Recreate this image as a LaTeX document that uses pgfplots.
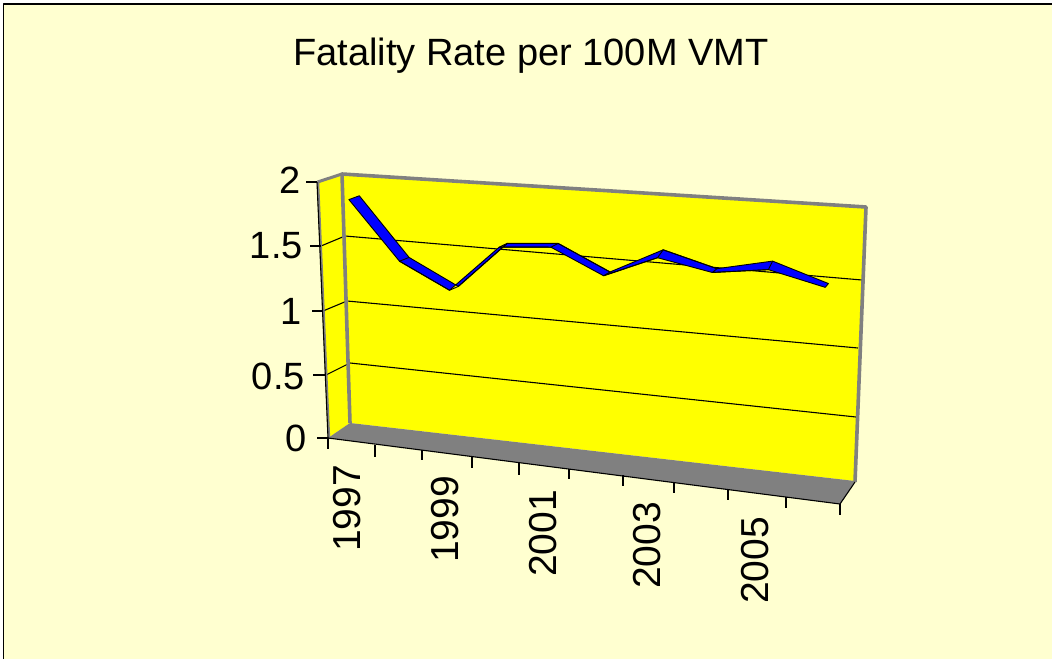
\documentclass[border=0pt]{standalone}
\usepackage{pgfplots}
\pgfplotsset{compat=1.18}
\usepackage{pgfplotstable}
\usepackage{fontspec}
\setmainfont{Liberation Sans}
\definecolor{bgc}{HTML}{FFFFD0}
\definecolor{wallc}{HTML}{FFFF00}
\definecolor{greyc}{HTML}{808080}
\definecolor{ribc}{HTML}{0000FF}
% year, rate as drawn, side (1 = rear edge of ribbon, -1 = front edge)
\pgfplotstableread{
year rate side
1997 1.863 1
1998 1.42 1
1999 1.23 1
2000 1.59 1
2001 1.62 1
2002 1.44 1
2003 1.635 1
2004 1.53 1
2005 1.617 1
2006 1.49 1
2006 1.49 -1
2005 1.583 -1
2004 1.53 -1
2003 1.605 -1
2002 1.44 -1
2001 1.62 -1
2000 1.59 -1
1999 1.23 -1
1998 1.42 -1
1997 1.863 -1
}\ribbon
\pgfplotstableread{
year rate side
1998 1.42 1
1998 1.42 -1
1999 1.23 -1
1999 1.23 1
2000 1.59 1
2000 1.59 -1
2001 1.62 -1
2001 1.62 1
2002 1.44 1
2002 1.44 -1
2003 1.605 -1
2003 1.635 1
2004 1.53 1
2004 1.53 -1
2005 1.583 -1
2005 1.617 1
}\creases
\begin{document}
\begin{tikzpicture}[
  txt/.style={font=\fontsize{38}{38}\selectfont,inner sep=0pt,text=black},
  yr/.style={font=\fontsize{39}{39}\selectfont,inner sep=0pt,text=black,anchor=east,rotate=90},
  declare function={
    projW(\u,\v)=1-0.09336*\u-0.03681*\v;
    projX(\u,\v)=(429.38*\u-21.63*\v+339)/projW(\u,\v);
    projY(\u,\v)=(15.57*\u-259.05*\v+430.5)/projW(\u,\v);
  }]
\begin{axis}[
  width=1052pt,height=659pt,scale only axis,
  xmin=0,xmax=1052,ymin=0,ymax=659,y dir=reverse,
  hide axis,clip=true,
  every axis plot/.append style={line join=round},
]
% chart area
\addplot[fill=bgc,draw=none] coordinates {(3.5,4.5)(1052,4.5)(1052,659)(3.5,659)} --cycle;
\addplot[black,line width=1.6pt] coordinates {(3.5,659)(3.5,4)(1052,4)};
% walls
\addplot[fill=wallc,draw=none] coordinates {(342,174)(866,207)(855,481)(350,423)} --cycle;
\addplot[fill=wallc,draw=none] coordinates {(317,182)(342,174)(350,423)(328,438)} --cycle;
\addplot[fill=greyc,draw=none] coordinates {(328,438)(350,423)(855,481)(840,504)} --cycle;
% gridlines
\addplot[black,line width=1.1pt] coordinates {(321,246)(345,236)(862,280)};
\addplot[black,line width=1.1pt] coordinates {(323,311)(347,301)(858,348)};
\addplot[black,line width=1.1pt] coordinates {(326,375)(350,363)(856,417)};
% wall borders
\addplot[greyc,line width=3.6pt] coordinates {(350,423)(342,174)(866,207)(855,482)};
\addplot[greyc,line width=3pt] coordinates {(317.5,182)(342,174)};
\addplot[greyc,line width=2.4pt] coordinates {(318,182)(329,438)};
\addplot[black,line width=1.1pt] coordinates {(317,182)(328,438)};
\addplot[black,line width=1.1pt] coordinates {(328,438)(840,504)(855,482)};
% y ticks
\addplot[black,line width=1.1pt] coordinates {(306,182)(317,182)};
\addplot[black,line width=1.1pt] coordinates {(310,246)(321,246)};
\addplot[black,line width=1.1pt] coordinates {(312,311)(323,311)};
\addplot[black,line width=1.1pt] coordinates {(313,375)(326,375)};
\addplot[black,line width=1.1pt] coordinates {(317,438)(328,438)};
% x ticks
\addplot[black,line width=1.1pt] coordinates {(328,438)(328,449)};
\addplot[black,line width=1.1pt] coordinates {(375,445)(375,457)};
\addplot[black,line width=1.1pt] coordinates {(422,450)(422,460)};
\addplot[black,line width=1.1pt] coordinates {(472,457)(472,468)};
\addplot[black,line width=1.1pt] coordinates {(519,463)(519,475)};
\addplot[black,line width=1.1pt] coordinates {(569,469)(569,479)};
\addplot[black,line width=1.1pt] coordinates {(623,475)(623,486)};
\addplot[black,line width=1.1pt] coordinates {(674,482)(674,493)};
\addplot[black,line width=1.1pt] coordinates {(728,489)(728,500)};
\addplot[black,line width=1.1pt] coordinates {(786,497)(786,508)};
\addplot[black,line width=1.1pt] coordinates {(840,504)(840,515)};
% ribbon
\addplot[fill=ribc,draw=black,line width=0.9pt] table[
  x expr={projX((\thisrow{year}-1996.5)/10,\thisrow{rate}/2)+\thisrow{side}*(5.4-0.4*(\thisrow{year}-1996.5))},
  y expr={projY((\thisrow{year}-1996.5)/10,\thisrow{rate}/2)-\thisrow{side}*1.9}
] {\ribbon} --cycle;
\addplot[draw=black,line width=0.9pt] table[
  x expr={projX((\thisrow{year}-1996.5)/10,\thisrow{rate}/2)+\thisrow{side}*(5.4-0.4*(\thisrow{year}-1996.5))},
  y expr={projY((\thisrow{year}-1996.5)/10,\thisrow{rate}/2)-\thisrow{side}*1.9}
] {\creases};
% text
\node[txt,anchor=center] at (axis cs:531,56) {Fatality Rate per 100M VMT};
\node[txt,anchor=east] at (axis cs:301,180) {2};
\node[txt,anchor=east] at (axis cs:303,246) {1.5};
\node[txt,anchor=east] at (axis cs:302,311) {1};
\node[txt,anchor=east] at (axis cs:305,376) {0.5};
\node[txt,anchor=east] at (axis cs:307,438) {0};
\node[yr] at (axis cs:347.5,465) {1997};
\node[yr] at (axis cs:445,476) {1999};
\node[yr] at (axis cs:543,490) {2001};
\node[yr] at (axis cs:647,502) {2003};
\node[yr] at (axis cs:755,517) {2005};
\end{axis}
\pgfresetboundingbox
\path[use as bounding box] (0,0) rectangle (1052pt,659pt);
\end{tikzpicture}
\end{document}
